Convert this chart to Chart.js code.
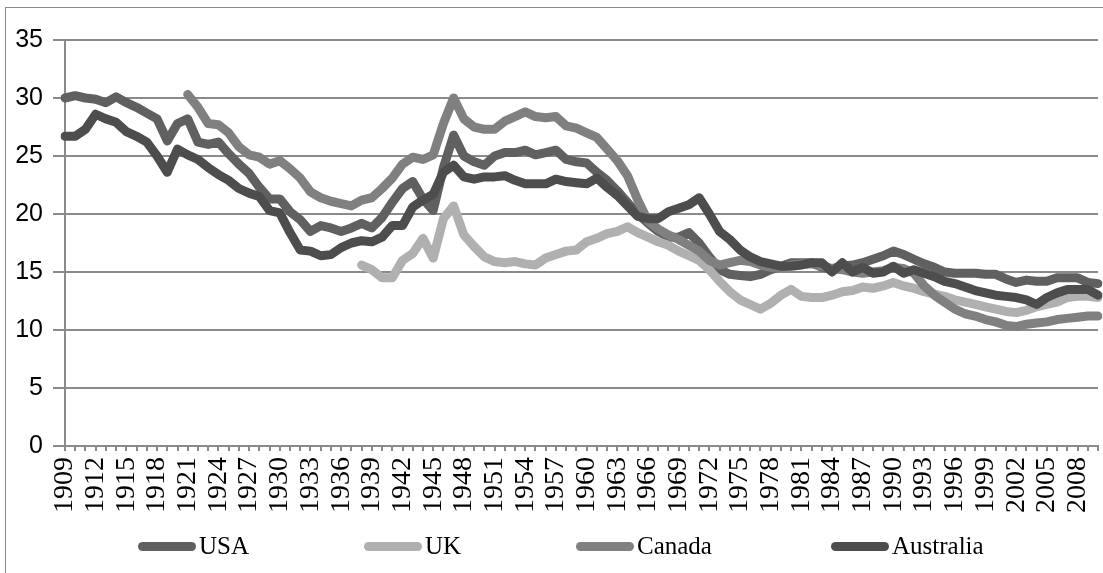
<!DOCTYPE html>
<html>
<head>
<meta charset="utf-8">
<title>USA, UK, Canada, Australia 1909-2010</title>
<script src="https://cdn.jsdelivr.net/npm/chart.js@4.4.1/dist/chart.umd.min.js"></script>
<style>
  html, body { margin: 0; padding: 0; background: #fff; }
  #wrap { position: relative; width: 1103px; height: 573px; overflow: hidden; }
  #frame { position: absolute; left: 5px; top: 7px; width: 1200px; height: 1000px; border: 1px solid #8a8a8a; }
  #chart { position: absolute; left: 0; top: 0; }
  #legend { position: absolute; left: 0; top: 532px; width: 1103px; height: 28px;
            font-family: "Liberation Serif", "Times New Roman", serif; font-size: 25px; color: #000; }
  .item { position: absolute; top: 0; height: 28px; display: flex; align-items: center; white-space: nowrap; }
  .swatch { width: 58px; height: 9px; border-radius: 4.5px; margin-right: 3px; }
</style>
</head>
<body>
<div id="wrap">
  <div id="frame"></div>
  <canvas id="chart" width="1103" height="573"></canvas>
  <div id="legend"></div>
</div>
<script>
// categories: one per year
const years = Array.from({ length: 102 }, (_, i) => 1909 + i);

// only every third year gets a label
const tickYears = [1909, 1912, 1915, 1918, 1921, 1924, 1927, 1930, 1933, 1936, 1939, 1942,
  1945, 1948, 1951, 1954, 1957, 1960, 1963, 1966, 1969, 1972, 1975, 1978, 1981, 1984,
  1987, 1990, 1993, 1996, 1999, 2002, 2005, 2008];

const yTicks = [0, 5, 10, 15, 20, 25, 30, 35];

// 1909-2010
const usa = [
  30.0, 30.2, 30.0, 29.9, 29.6, 30.1, 29.6, 29.2, 28.7, 28.2, // 1909-1918
  26.3, 27.8, 28.2, 26.2, 26.0, 26.2, 25.2, 24.3, 23.5, 22.3, // 1919-1928
  21.3, 21.3, 20.2, 19.5, 18.5, 19.0, 18.8, 18.5, 18.8, 19.2, // 1929-1938
  18.8, 19.7, 21.0, 22.2, 22.8, 21.3, 20.3, 24.0, 26.8, 25.0, // 1939-1948
  24.5, 24.2, 25.0, 25.3, 25.3, 25.5, 25.1, 25.3, 25.5, 24.7, // 1949-1958
  24.5, 24.4, 23.6, 22.9, 22.0, 21.0, 20.0, 19.2, 18.5, 18.0, // 1959-1968
  18.0, 18.4, 17.5, 16.3, 15.2, 14.8, 14.7, 14.6, 14.8, 15.2, // 1969-1978
  15.5, 15.8, 15.8, 15.8, 15.4, 15.3, 15.5, 15.6, 15.8, 16.1, // 1979-1988
  16.4, 16.8, 16.5, 16.1, 15.7, 15.4, 15.0, 14.9, 14.9, 14.9, // 1989-1998
  14.8, 14.8, 14.4, 14.1, 14.3, 14.2, 14.2, 14.5, 14.5, 14.5, // 1999-2008
  14.1, 14.0                                                  // 2009-2010
];

// UK series starts in 1938
const uk = [
  null, null, null, null, null, null, null, null, null, null, // 1909-1918
  null, null, null, null, null, null, null, null, null, null, // 1919-1928
  null, null, null, null, null, null, null, null, null,       // 1929-1937
  15.6, 15.2, 14.5, 14.5, 16.0, 16.6, 17.9, 16.2, 19.6, 20.7, // 1938-1947
  18.2, 17.2, 16.3, 15.9, 15.8, 15.9, 15.7, 15.6, 16.2, 16.5, // 1948-1957
  16.8, 16.9, 17.6, 17.9, 18.3, 18.5, 18.9, 18.4, 18.0, 17.6, // 1958-1967
  17.3, 16.8, 16.4, 16.0, 15.2, 14.2, 13.3, 12.6, 12.2, 11.8, // 1968-1977
  12.3, 13.0, 13.5, 12.9, 12.8, 12.8, 13.0, 13.3, 13.4, 13.7, // 1978-1987
  13.6, 13.8, 14.1, 13.8, 13.6, 13.3, 13.1, 12.9, 12.6, 12.4, // 1988-1997
  12.2, 12.0, 11.8, 11.6, 11.5, 11.7, 12.0, 12.2, 12.4, 12.8, // 1998-2007
  12.9, 12.9, 12.8                                            // 2008-2010
];

// Canada series starts in 1921
const canada = [
  null, null, null, null, null, null, null, null, null, null, // 1909-1918
  null, null,                                                 // 1919-1920
  30.3, 29.2, 27.8, 27.7, 27.0, 25.8, 25.1, 24.9, 24.3, 24.6, // 1921-1930
  23.9, 23.1, 21.9, 21.4, 21.1, 20.9, 20.7, 21.2, 21.4, 22.2, // 1931-1940
  23.1, 24.3, 24.9, 24.7, 25.1, 27.8, 30.0, 28.2, 27.5, 27.3, // 1941-1950
  27.3, 28.0, 28.4, 28.8, 28.4, 28.3, 28.4, 27.6, 27.4, 27.0, // 1951-1960
  26.6, 25.6, 24.6, 23.3, 21.2, 19.4, 18.7, 18.2, 17.8, 17.3, // 1961-1970
  16.8, 16.0, 15.6, 15.8, 16.0, 15.9, 15.6, 15.4, 15.4, 15.6, // 1971-1980
  15.7, 15.7, 15.5, 15.3, 15.2, 15.0, 14.9, 15.0, 15.1, 15.4, // 1981-1990
  15.3, 14.9, 13.8, 13.0, 12.4, 11.8, 11.4, 11.2, 10.9, 10.7, // 1991-2000
  10.4, 10.3, 10.5, 10.6, 10.7, 10.9, 11.0, 11.1, 11.2, 11.2  // 2001-2010
];

const australia = [
  26.7, 26.7, 27.3, 28.6, 28.2, 27.9, 27.1, 26.7, 26.2, 25.0, // 1909-1918
  23.6, 25.6, 25.1, 24.7, 24.0, 23.4, 22.9, 22.2, 21.8, 21.5, // 1919-1928
  20.3, 20.1, 18.4, 16.9, 16.8, 16.4, 16.5, 17.1, 17.5, 17.7, // 1929-1938
  17.6, 18.0, 19.0, 19.0, 20.6, 21.2, 21.7, 23.6, 24.2, 23.2, // 1939-1948
  23.0, 23.2, 23.2, 23.3, 22.9, 22.6, 22.6, 22.6, 23.0, 22.8, // 1949-1958
  22.7, 22.6, 23.1, 22.3, 21.6, 20.7, 19.8, 19.6, 19.6, 20.2, // 1959-1968
  20.5, 20.8, 21.4, 20.0, 18.5, 17.8, 16.9, 16.3, 15.9, 15.7, // 1969-1978
  15.5, 15.5, 15.6, 15.8, 15.8, 15.0, 15.8, 15.0, 15.4, 14.9, // 1979-1988
  15.0, 15.5, 14.9, 15.2, 14.9, 14.6, 14.2, 14.0, 13.7, 13.4, // 1989-1998
  13.2, 13.0, 12.9, 12.8, 12.6, 12.2, 12.8, 13.2, 13.5, 13.5, // 1999-2008
  13.5, 13.0                                                  // 2009-2010
];

const gridColor = '#8a8a8a';

function series(label, data, color, order) {
  return {
    label: label,
    data: data,
    borderColor: color,
    backgroundColor: color,
    borderWidth: 9,
    borderCapStyle: 'round',
    borderJoinStyle: 'round',
    pointRadius: 0,
    tension: 0,
    fill: false,
    order: order // later series on top, like the original
  };
}

const ctx = document.getElementById('chart').getContext('2d');
const chart = new Chart(ctx, {
  type: 'line',
  data: {
    labels: years,
    datasets: [
      series('USA', usa, '#606060', 4),
      series('UK', uk, '#b0b0b0', 3),
      series('Canada', canada, '#808080', 2),
      series('Australia', australia, '#4d4d4d', 1)
    ]
  },
  options: {
    responsive: false,
    animation: false,
    layout: { padding: { top: 40, left: 5, right: 5, bottom: 47 } },
    plugins: {
      legend: { display: false },
      tooltip: { enabled: false }
    },
    scales: {
      x: {
        offset: false,
        grid: { drawOnChartArea: false, drawTicks: true, tickLength: 5, color: gridColor, lineWidth: 2 },
        border: { color: gridColor, width: 2 },
        ticks: {
          autoSkip: false,
          maxRotation: 90,
          minRotation: 90,
          padding: 6,
          color: '#000',
          font: { family: '"Liberation Serif", "Times New Roman", serif', size: 28 },
          callback: function (value, index) {
            const y = years[index];
            return tickYears.includes(y) ? String(y) : '';
          }
        },
        afterFit: function (scale) {
          scale.height = 80;
          // no extra side room for the rotated labels
          scale.paddingLeft = 0;
          scale.paddingRight = 0;
        }
      },
      y: {
        min: 0,
        max: 35,
        afterBuildTicks: function (scale) { scale.ticks = yTicks.map(v => ({ value: v })); },
        ticks: {
          padding: 10,
          color: '#000',
          font: { family: '"Liberation Sans", Arial, sans-serif', size: 25 }
        },
        grid: { color: gridColor, lineWidth: 2, tickLength: 12 },
        border: { color: gridColor, width: 2 },
        afterFit: function (scale) { scale.width = 60; }
      }
    }
  }
});

// html legend under the axis
const legendLeft = [138, 364, 576, 831];
const legendEl = document.getElementById('legend');
chart.data.datasets.forEach((ds, i) => {
  const item = document.createElement('div');
  item.className = 'item';
  item.style.left = legendLeft[i] + 'px';
  const sw = document.createElement('span');
  sw.className = 'swatch';
  sw.style.background = ds.borderColor;
  const txt = document.createElement('span');
  txt.textContent = ds.label;
  item.appendChild(sw);
  item.appendChild(txt);
  legendEl.appendChild(item);
});
</script>
</body>
</html>
